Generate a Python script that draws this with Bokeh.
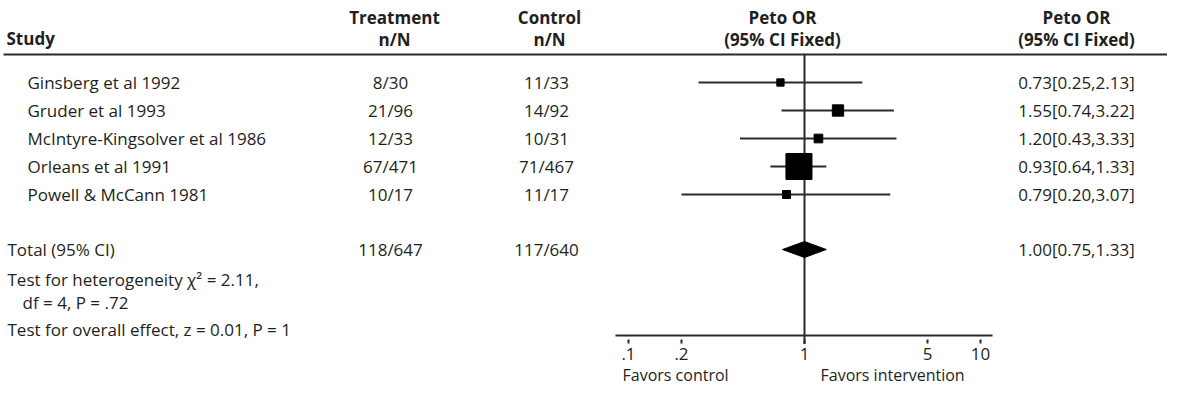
from bokeh.plotting import figure
from bokeh.models import Range1d, LogScale, LogAxis, FixedTicker, ColumnDataSource, CustomJSTickFormatter
from bokeh.core.properties import value
from bokeh.embed import file_html
from bokeh.resources import INLINE

# ---------------- data ----------------
studies = ["Ginsberg et al 1992", "Gruder et al 1993", "McIntyre-Kingsolver et al 1986",
           "Orleans et al 1991", "Powell & McCann 1981"]
treatment = ["8/30", "21/96", "12/33", "67/471", "10/17"]
control = ["11/33", "14/92", "10/31", "71/467", "11/17"]
odds_ratio = [0.73, 1.55, 1.20, 0.93, 0.79]
ci_low = [0.25, 0.74, 0.43, 0.64, 0.20]
ci_high = [2.13, 3.22, 3.33, 1.33, 3.07]
weight_pct = [5.3, 12.8, 7.6, 67.8, 6.4]

total_label = "Total (95% CI)"
total_treatment = "118/647"
total_control = "117/640"
total_or = 1.00
total_low = 0.75
total_high = 1.33

null_or = 1.0
tick_values = [0.1, 0.2, 1, 5, 10]
tick_labels = [".1", ".2", "1", "5", "10"]

header_study = "Study"
header_treat = ["Treatment", "n/N"]
header_ctrl = ["Control", "n/N"]
header_or = ["Peto OR", "(95% CI Fixed)"]
heterogeneity = ["Test for heterogeneity \u03c7\u00b2 = 2.11,", "df = 4, P = .72"]
overall = "Test for overall effect, z = 0.01, P = 1"
favors = ["Favors control", "Favors intervention"]

# ---------------- layout constants ----------------
W, H = 1167, 386
FONT = "Open Sans"
FS = "17px"
TXT = "#231f20"
LINE = "#2a2a2a"

ONE_X = 812.0        # page x of OR = 1
DEC = 176.0          # px per decade
ROW0, ROW_STEP = 90, 28
HEAD_LINE_Y = 62
AXIS_Y = 342.5

X_STUDY_HEAD, X_STUDY = 14, 35
X_TREAT, X_CTRL = 398, 554
X_TREAT_H, X_CTRL_H = 402, 557
X_OR_H, X_OR_TXT = 790, 1084

p = figure(width=W, height=H, output_backend="svg", toolbar_location=None,
           x_range=Range1d(8, 8 + W), y_range=Range1d(8 + H, 8),
           x_axis_type=None, y_axis_type=None,
           min_border=0, min_border_left=0, min_border_right=0,
           min_border_top=0, min_border_bottom=0)
p.outline_line_color = None
p.background_fill_color = "white"
p.border_fill_color = "white"

p.extra_x_ranges = {"or": Range1d(10 ** ((8 - ONE_X) / DEC), 10 ** ((8 + W - ONE_X) / DEC))}
p.extra_x_scales = {"or": LogScale()}

n = len(studies)
rows_y = [ROW0 + ROW_STEP * i for i in range(n)]
total_y = ROW0 + ROW_STEP * n + 27

src = ColumnDataSource(dict(
    study=studies, treat=treatment, ctrl=control,
    orv=odds_ratio, lo=ci_low, hi=ci_high,
    size=[3.16 * (w ** 0.5) for w in weight_pct],
    y=rows_y,
    ortxt=[f"{o:.2f}[{a:.2f},{b:.2f}]" for o, a, b in zip(odds_ratio, ci_low, ci_high)],
))

def txt(x, y, t, align="left", bold=False, size=FS, **kw):
    return p.text(x=x, y=y, text=t, text_font=value(FONT), text_font_size=size,
                  text_font_style="bold" if bold else "normal",
                  text_align=align, text_baseline="middle", text_color=TXT, **kw)

# headers
txt([X_STUDY_HEAD], [46], [header_study], bold=True)
txt([X_TREAT_H, X_TREAT_H], [25, 46.5], header_treat, align="center", bold=True)
txt([X_CTRL_H, X_CTRL_H], [25, 46.5], header_ctrl, align="center", bold=True)
txt([X_OR_H, X_OR_H], [25, 46.5], header_or, align="center", bold=True)
txt([X_OR_TXT, X_OR_TXT], [25, 46.5], header_or, align="center", bold=True)

# header rule
p.segment(x0=[11], x1=[8 + W], y0=[HEAD_LINE_Y], y1=[HEAD_LINE_Y], line_width=2, line_color=LINE)

# study rows
p.text(x=X_STUDY, y="y", text="study", source=src, text_font=value(FONT), text_font_size=FS,
       text_baseline="middle", text_color=TXT)
p.text(x=X_TREAT, y="y", text="treat", source=src, text_font=value(FONT), text_font_size=FS,
       text_baseline="middle", text_align="center", text_color=TXT)
p.text(x=X_CTRL, y="y", text="ctrl", source=src, text_font=value(FONT), text_font_size=FS,
       text_baseline="middle", text_align="center", text_color=TXT)
p.text(x=X_OR_TXT, y="y", text="ortxt", source=src, text_font=value(FONT), text_font_size=FS,
       text_baseline="middle", text_align="center", text_color=TXT)

# total row
txt([15], [total_y], [total_label])
txt([X_TREAT], [total_y], [total_treatment], align="center")
txt([X_CTRL], [total_y], [total_control], align="center")
txt([X_OR_TXT], [total_y], [f"{total_or:.2f}[{total_low:.2f},{total_high:.2f}]"], align="center")

# tests
txt([15], [287], [heterogeneity[0]])
txt([30], [310], [heterogeneity[1]])
txt([15], [337], [overall])

# null line
p.segment(x0=[null_or], x1=[null_or], y0=[HEAD_LINE_Y], y1=[AXIS_Y + 9],
          x_range_name="or", line_width=2, line_color=LINE)

# CI lines and squares
p.segment(x0="lo", x1="hi", y0="y", y1="y", source=src, x_range_name="or",
          line_width=2, line_color=LINE)
p.scatter(x="orv", y="y", size="size", marker="square", source=src, x_range_name="or",
          fill_color="black", line_color="black")

# diamond
dh = 8
p.patch(x=[total_low, total_or, total_high, total_or],
        y=[total_y, total_y - dh, total_y, total_y + dh],
        x_range_name="or", fill_color="black", line_color="black")

# axis
ax = LogAxis(x_range_name="or", fixed_location=AXIS_Y,
             ticker=FixedTicker(ticks=tick_values),
             formatter=CustomJSTickFormatter(args=dict(vals=tick_values, labs=tick_labels), code="""
                 for (let i = 0; i < vals.length; i++) {
                   if (Math.abs(vals[i] - tick) < 1e-9 * Math.max(1, tick)) return labs[i];
                 }
                 return '';
             """),
             bounds=(10 ** ((623 - ONE_X) / DEC), 10 ** ((1000 - ONE_X) / DEC)),
             axis_line_width=2, axis_line_color=LINE,
             major_tick_in=-4, major_tick_out=8, major_tick_line_width=2,
             major_tick_line_color=LINE,
             minor_tick_line_color=None,
             major_label_standoff=5,
             major_label_text_font=FONT, major_label_text_font_size=FS,
             major_label_text_color=TXT)
p.add_layout(ax, "below")

# favors labels
txt([630, 828], [382, 382], favors, size="16px")

open("out.html", "w").write(file_html(p, INLINE))
